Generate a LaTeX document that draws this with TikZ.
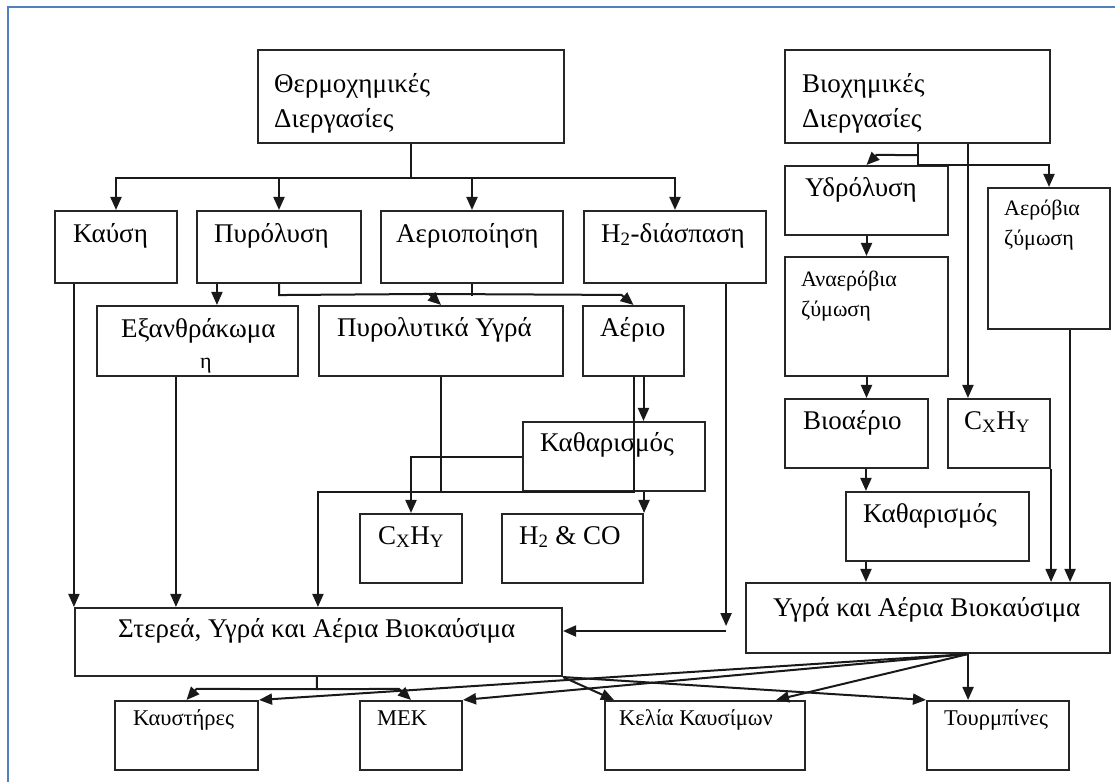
\documentclass[tikz,border=0pt]{standalone}
\usepackage{fontspec}
\setmainfont{Liberation Serif}
\usetikzlibrary{arrows.meta,fit,calc}
\begin{document}
\begin{tikzpicture}[x=1pt,y=-1pt,
  box/.style={draw=black!85,line width=2.1pt,inner sep=0pt},
  conn/.style={draw=black!90,line width=2pt},
  arr/.style={conn,-{Triangle[length=13pt,width=11pt]}},
  lbl/.style={anchor=base west,inner sep=0pt,font=\fontsize{27}{32}\selectfont},
  med/.style={anchor=base west,inner sep=0pt,font=\fontsize{22}{26}\selectfont},
  sml/.style={anchor=base west,inner sep=0pt,font=\fontsize{22.5}{26}\selectfont},
]
\useasboundingbox (0,0) rectangle (1115,782);
\fill[white] (0,0) rectangle (1115,782);
\draw[color={rgb,255:red,79;green,129;blue,189},line width=1.5pt] (8,782) -- (8,7) -- (1115,7);
\newcommand\mkbox[5]{\node[box,fit={(#2,#3) (#4,#5)}] (#1) {};}
% boxes
\mkbox{thermo}{258}{50}{564}{143}
\mkbox{bio}{785}{50}{1050}{143}
\mkbox{kaus}{55}{211}{177}{283}
\mkbox{pyro}{197}{211}{361}{283}
\mkbox{gasif}{381}{211}{563}{283}
\mkbox{h2d}{584}{211}{766}{283}
\mkbox{char}{97}{306}{298}{376}
\mkbox{pyl}{319}{306}{563}{376}
\mkbox{gas}{583}{306}{684}{376}
\mkbox{cleanT}{523}{422}{705}{491}
\mkbox{cxhyT}{360}{514}{462}{583}
\mkbox{h2co}{502}{514}{643}{583}
\mkbox{solid}{75}{608}{562}{676}
\mkbox{hydro}{785}{166}{948}{235}
\mkbox{aerob}{988}{188}{1110}{329}
\mkbox{anaer}{785}{257}{948}{376}
\mkbox{biogas}{785}{399}{928}{468}
\mkbox{cxhyB}{948}{399}{1050}{468}
\mkbox{cleanB}{846}{492}{1029}{561}
\mkbox{liq}{746}{583}{1110}{653}
\mkbox{burn}{115}{701}{258}{770}
\mkbox{mek}{360}{701}{462}{770}
\mkbox{cell}{605}{701}{805}{770}
\mkbox{turb}{927}{701}{1069}{770}
% texts
\node[lbl] (tthermoA) at (274,92) {Θερμοχημικές};
\node[lbl] (tthermoB) at (274,127) {Διεργασίες};
\node[lbl] (tbioA) at (802,92) {Βιοχημικές};
\node[lbl] (tbioB) at (802,127) {Διεργασίες};
\node[lbl] (tkaus) at (73,242) {Καύση};
\node[lbl] (tpyro) at (214,242) {Πυρόλυση};
\node[lbl] (tgasif) at (396,242) {Αεριοποίηση};
\node[lbl] (th2d) at (601,242) {H\textsubscript{2}-διάσπαση};
\node[lbl] (tcharA) at (121,337) {Εξανθράκωμα};
\node[med] (tcharB) at (200,368) {η};
\node[lbl] (tpyl) at (337,336) {Πυρολυτικά Υγρά};
\node[lbl] (tgas) at (600,336) {Αέριο};
\node[lbl] (tcleanT) at (540,451) {Καθαρισμός};
\node[lbl] (tcxhyT) at (378,544) {C\textsubscript{X}H\textsubscript{Y}};
\node[lbl] (th2co) at (519,544) {H\textsubscript{2} \& CO};
\node[lbl] (tsolid) at (118,637) {Στερεά, Υγρά και Αέρια Βιοκαύσιμα};
\node[lbl] (thydro) at (805,196) {Υδρόλυση};
\node[med] (taerobA) at (1004,215) {Αερόβια};
\node[med] (taerobB) at (1004,245) {ζύμωση};
\node[med] (tanaerA) at (801,286) {Αναερόβια};
\node[med] (tanaerB) at (801,316) {ζύμωση};
\node[lbl] (tbiogas) at (803,429) {Βιοαέριο};
\node[lbl] (tcxhyB) at (964,429) {C\textsubscript{X}H\textsubscript{Y}};
\node[lbl] (tcleanB) at (863,522) {Καθαρισμός};
\node[lbl] (tliq) at (773,616) {Υγρά και Αέρια Βιοκαύσιμα};
\node[sml] (tburn) at (133,725) {Καυστήρες};
\node[sml] (tmek) at (377,725) {ΜΕΚ};
\node[sml] (tcell) at (619,725) {Κελία Καυσίμων};
\node[sml] (tturb) at (944,725) {Τουρμπίνες};
% thermochemical connectors
\draw[arr] (thermo.south) -- ++(0,34) -| (kaus.north);
\draw[arr] (thermo.south) -- ++(0,34) -| (pyro.north);
\draw[arr] (thermo.south) -- ++(0,34) -| (gasif.north);
\draw[arr] (thermo.south) -- ++(0,34) -| (h2d.north);
\draw[arr] ([xshift=21pt]pyro.south west) -- ([xshift=21pt]pyro.south west |- char.north);
\draw[arr] (pyro.south) -- ++(0,11) -- ([xshift=-12pt,yshift=11pt]pyl.north) -- (pyl.north);
\draw[arr] ([xshift=-12pt,yshift=11pt]pyl.north) -- ([xshift=-12pt,yshift=10pt]gas.north) -- (gas.north);
\draw[conn] (gasif.south) -- ++(0,12);
\draw[arr] (kaus.south west -| solid.north west) -- (solid.north west);
\draw[arr] ([xshift=80pt]char.south west) -- ([xshift=80pt]char.south west |- solid.north);
\draw[conn] (pyl.south) -- (pyl.south |- cleanT.south);
\draw[arr] (cleanT.south west) -- (cleanT.south -| pyl.west) -- (pyl.west |- solid.north);
\draw[conn] (gas.south) -- (gas.south |- cleanT.south) -- (cleanT.south west);
\draw[arr] ([xshift=10pt]gas.south) -- ([xshift=10pt]gas.south |- cleanT.north);
\draw[arr] (h2co.north east |- cleanT.south) -- (h2co.north east);
\draw[arr] (cleanT.west) -| (cxhyT.north);
\draw[arr] ([xshift=-41pt]h2d.south east) -- ++(0,342);
\draw[arr] ([xshift=-41pt]h2d.south east |- solid.east) ++(0,-11) -- ([yshift=11pt]solid.east);
% biochemical connectors
\draw[arr] (bio.south) -- (bio.south |- hydro.north) -| (aerob.north);
\draw[arr] ([yshift=-11pt]bio.south) -- ([xshift=10pt,yshift=10pt]hydro.north) -- (hydro.north);
\draw[arr] ([xshift=21pt]cxhyB.north west |- bio.south) -- ([xshift=21pt]cxhyB.north west);
\draw[arr] (hydro.south) -- (anaer.north);
\draw[arr] (anaer.south) -- (anaer.south |- biogas.north);
\draw[arr] ([xshift=82pt]biogas.south west) -- ([xshift=82pt]biogas.south west |- cleanB.north);
\draw[arr] ([xshift=82pt]biogas.south west |- cleanB.south) -- ([xshift=82pt]biogas.south west |- liq.north);
\draw[arr] (cxhyB.south east) -- (cxhyB.south east |- liq.north);
\draw[arr] ([xshift=-41pt]aerob.south east) -- ([xshift=-41pt]aerob.south east |- liq.north);
% outputs
\draw[arr] ([xshift=243pt]solid.south west) -- ++(0,12) -- ([xshift=10pt,yshift=11pt]burn.north) -- (burn.north);
\draw[arr] ([xshift=243pt,yshift=-12pt]solid.south west) -- ([xshift=-12pt,yshift=11pt]mek.north) -- (mek.north);
\draw[arr] (solid.south east) -- ([xshift=10pt]cell.north west);
\draw[arr] (solid.south east) -- (turb.north west);
\draw[arr] ([xshift=-143pt]liq.south east) -- (burn.north east);
\draw[arr] ([xshift=-143pt]liq.south east) -- (mek.north east);
\draw[arr] ([xshift=-143pt]liq.south east) -- ([xshift=-30pt]cell.north east);
\draw[arr] ([xshift=-143pt]liq.south east) -- ([xshift=-143pt]liq.south east |- turb.north);
\end{tikzpicture}
\end{document}
